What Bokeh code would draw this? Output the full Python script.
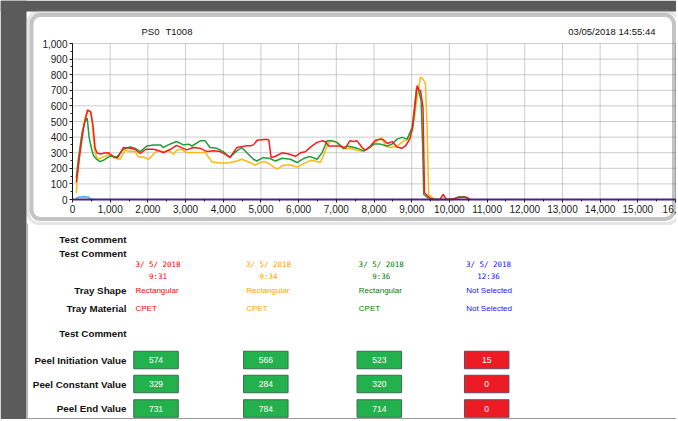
from bokeh.plotting import figure
from bokeh.models import (Range1d, SingleIntervalTicker, NumeralTickFormatter,
                          BoxAnnotation, LinearAxis)
from bokeh.core.properties import value
from bokeh.embed import file_html
from bokeh.resources import INLINE

# ---------------- data ----------------
chart_title_parts = ["PS0", "T1008"]
chart_date = "03/05/2018 14:55:44"

red_x = [100, 200, 300, 400, 480, 540, 600, 650, 750, 850, 950, 1000, 1100, 1200, 1350, 1500,
         1650, 1800, 1950, 2150, 2300, 2420, 2600, 2760, 2940, 3030, 3210, 3390, 3570, 3740,
         3920, 4090, 4180, 4360, 4490, 4620, 4722, 4800, 4900, 4950, 5165, 5210, 5270, 5385,
         5562, 5739, 5916, 6048, 6180, 6313, 6490, 6620, 6710, 6800, 6932, 7110, 7242, 7357,
         7463, 7551, 7684, 7772, 7905, 8038, 8170, 8260, 8350, 8480, 8613, 8746, 8835, 8950,
         9030, 9083, 9145, 9190, 9233, 9300, 9340, 9470, 9560, 9750, 9835, 9920, 10100, 10300,
         10450, 10550]
red_y = [110, 300, 470, 574, 562, 480, 330, 298, 292, 298, 300, 290, 270, 268, 333, 330,
         322, 295, 322, 322, 312, 300, 322, 347, 328, 318, 333, 328, 307, 312,
         307, 285, 269, 333, 339, 344, 344, 350, 380, 382, 386, 380, 268, 277,
         299, 292, 277, 299, 306, 336, 366, 376, 370, 343, 343, 343, 329, 376,
         372, 376, 333, 316, 343, 380, 387, 382, 359, 371, 336, 329, 343, 387,
         462, 591, 731, 703, 699, 591, 43, 12, 0, 0, 32, 0, 5, 15,
         15, 0]

orange_x = [100, 150, 250, 350, 433, 495, 540, 583, 630, 680, 822, 1000, 1175, 1265, 1400, 1530,
            1660, 1750, 1880, 2020, 2150, 2240, 2410, 2540, 2680, 2760, 2890, 3030, 3300, 3520,
            3700, 3830, 4000, 4180, 4360, 4490, 4710, 4840, 4980, 5110, 5240, 5340, 5430, 5600,
            5783, 5960, 6136, 6313, 6445, 6575, 6710, 6800, 6932, 7065, 7197, 7374, 7551, 7728,
            7905, 8082, 8215, 8300, 8435, 8613, 8790, 8923, 9055, 9145, 9233, 9295, 9365, 9410,
            9450, 9540, 9620, 9700]
orange_y = [40, 200, 420, 540, 570, 560, 450, 320, 279, 258, 273, 290, 264, 258, 316, 307,
            307, 273, 273, 258, 290, 312, 307, 316, 290, 316, 322, 301, 301, 301,
            241, 237, 232, 237, 247, 258, 237, 220, 237, 243, 226, 208, 194, 221,
            221, 208, 230, 251, 247, 237, 312, 366, 376, 355, 323, 329, 316, 308,
            336, 376, 398, 343, 333, 343, 376, 387, 505, 655, 784, 774, 742, 462,
            32, 15, 0, 0]

green_x = [100, 150, 250, 330, 389, 440, 500, 560, 640, 725, 850, 1000, 1175, 1350, 1530, 1660,
           1800, 1970, 2150, 2330, 2410, 2540, 2760, 2940, 3080, 3170, 3390, 3520, 3650, 3830,
           4000, 4130, 4180, 4360, 4490, 4620, 4800, 4890, 5060, 5220, 5385, 5562, 5783, 5960,
           6136, 6313, 6490, 6620, 6755, 6887, 7020, 7180, 7286, 7420, 7550, 7728, 7860, 7993,
           8170, 8350, 8480, 8613, 8746, 8879, 9012, 9074, 9127, 9171, 9250, 9290, 9320, 9410,
           9560, 10100, 10240, 10400, 10550]
green_y = [139, 250, 420, 500, 522, 400, 330, 280, 258, 243, 255, 279, 273, 322, 337, 328,
           307, 343, 350, 350, 333, 350, 372, 350, 355, 343, 376, 376, 333, 328,
           307, 279, 273, 312, 333, 301, 258, 247, 268, 264, 247, 264, 258, 237,
           264, 275, 258, 299, 376, 376, 366, 329, 343, 336, 329, 312, 329, 355,
           355, 343, 355, 387, 398, 387, 462, 591, 714, 710, 634, 350, 32, 15,
           0, 0, 17, 17, 0]

blue_x = [100, 150, 300, 430, 480, 600]
blue_y = [5, 15, 17, 15, 0, 0]

series_colors = ["#ff1a1a", "#fdb913", "#1e9e3a", "#33b5e5"]
text_colors = ["#ff0000", "#ffa500", "#008000", "#1414ff"]

x_ticks = list(range(0, 16001, 1000))
y_ticks = list(range(0, 1001, 100))

test_dates = ["3/ 5/ 2018", "3/ 5/ 2018", "3/ 5/ 2018", "3/ 5/ 2018"]
test_times = ["9:31", "9:34", "9:36", "12:36"]
tray_shapes = ["Rectangular", "Rectangular", "Rectangular", "Not Selected"]
tray_materials = ["CPET", "CPET", "CPET", "Not Selected"]
peel_initiation = [574, 566, 523, 15]
peel_constant = [329, 284, 320, 0]
peel_end = [731, 784, 714, 0]
test_passed = [True, True, True, False]

row_labels = ["Test Comment", "Test Comment", "Tray Shape", "Tray Material", "Test Comment",
              "Peel Initiation Value", "Peel Constant Value", "Peel End Value"]

FONT = "Liberation Sans"
GRAY = "#5b5b5b"

# ---------------- page canvas (pixel coordinates) ----------------
W, H = 676, 419
FL, FR, FT, FB = 72, 675, 43, 199      # chart plot area edges in page pixels
XMAX, YMAX = x_ticks[-1], y_ticks[-1]

p = figure(width=W, height=H, x_range=Range1d(0, W), y_range=Range1d(H, 0),
           x_axis_type=None, y_axis_type=None, output_backend="svg", toolbar_location=None,
           min_border=0, outline_line_color=None,
           background_fill_color="white", border_fill_color="white")

# chart ranges placed so that [0, XMAX] x [0, YMAX] spans the plot area
kx = XMAX / (FR - FL)
ky = YMAX / (FB - FT)
p.extra_x_ranges = {"cx": Range1d(-FL * kx, (W - FL) * kx)}
p.extra_y_ranges = {"cy": Range1d((FB - H) * ky, FB * ky)}

# window background / panel frame
p.add_layout(BoxAnnotation(left=0, right=W, top=0, bottom=11, fill_color=GRAY, fill_alpha=1,
                           line_color=None, level="underlay"))
p.add_layout(BoxAnnotation(left=0, right=26, top=0, bottom=H, fill_color=GRAY, fill_alpha=1,
                           line_color=None, level="underlay"))
p.add_layout(BoxAnnotation(left=26, right=27.5, top=223, bottom=H, fill_color="#b5b5b5", fill_alpha=1,
                           line_color=None, level="underlay"))
p.add_layout(BoxAnnotation(left=27, right=W, top=417.5, bottom=H, fill_color="#9a9a9a", fill_alpha=1,
                           line_color=None, level="underlay"))

# grid lines (dotted) at the major ticks
p.segment(x0=x_ticks[1:], y0=[0] * (len(x_ticks) - 1), x1=x_ticks[1:], y1=[YMAX] * (len(x_ticks) - 1),
          x_range_name="cx", y_range_name="cy", line_color="#9a9a9a", line_dash="1 1", line_width=1)
p.segment(x0=[0] * (len(y_ticks) - 1), y0=y_ticks[1:], x1=[XMAX] * (len(y_ticks) - 1), y1=y_ticks[1:],
          x_range_name="cx", y_range_name="cy", line_color="#9a9a9a", line_dash="1 1", line_width=1)

# axes
xax = LinearAxis(x_range_name="cx", y_range_name="cy", fixed_location=0, bounds=(0, XMAX),
                 ticker=SingleIntervalTicker(interval=1000, num_minor_ticks=2),
                 formatter=NumeralTickFormatter(format="0,0"))
yax = LinearAxis(x_range_name="cx", y_range_name="cy", fixed_location=0, bounds=(0, YMAX),
                 ticker=SingleIntervalTicker(interval=100, num_minor_ticks=2),
                 formatter=NumeralTickFormatter(format="0,0"))
for ax in (xax, yax):
    ax.major_label_text_font = FONT
    ax.major_label_text_font_size = "10px"
    ax.major_label_text_color = "#1a1a1a"
    ax.major_tick_in = 0
    ax.major_tick_out = 3
    ax.minor_tick_in = 0
    ax.minor_tick_out = 2
    ax.major_tick_line_color = "#222222"
    ax.minor_tick_line_color = "#222222"
    ax.major_label_standoff = 2
yax.axis_line_color = "#111111"
xax.axis_line_color = "#4b2088"
xax.axis_line_width = 2
# the last tick label is cut by the panel edge in the original
xax.major_label_overrides = {XMAX: "16,"}
p.add_layout(xax, "below")
p.add_layout(yax, "left")

# series
p.line(blue_x, blue_y, line_color=series_colors[3], line_width=1.5, x_range_name="cx", y_range_name="cy")
p.line(orange_x, orange_y, line_color=series_colors[1], line_width=1.5, x_range_name="cx", y_range_name="cy")
p.line(green_x, green_y, line_color=series_colors[2], line_width=1.5, x_range_name="cx", y_range_name="cy")
p.line(red_x, red_y, line_color=series_colors[0], line_width=1.5, x_range_name="cx", y_range_name="cy")

# panel border (drawn above everything)
p.add_layout(BoxAnnotation(left=27.5, right=678, top=11.5, bottom=223, border_radius=11,
                           fill_alpha=0, line_color="#a8a8a8", line_width=3))
p.add_layout(BoxAnnotation(left=31, right=673.5, top=14.5, bottom=218.5, border_radius=9,
                           fill_alpha=0, line_color="#3a3a3a", line_width=4))

# header texts
p.text(x=[141, 165], y=[31, 31], text=chart_title_parts, text_align="left", text_baseline="middle",
       text_font=value(FONT), text_font_size="9.5px", text_color="#111111")
p.text(x=[655], y=[31], text=[chart_date], text_align="right", text_baseline="middle",
       text_font=value(FONT), text_font_size="9.5px", text_color="#111111")

# ---------------- table ----------------
label_y = [239, 252.5, 290, 308, 332.5, 359.5, 383.5, 408]
p.text(x=[126] * len(row_labels), y=label_y, text=row_labels, text_align="right",
       text_baseline="middle", text_font=value(FONT), text_font_style="bold",
       text_font_size="9.8px", text_color="#111111")

col_left = [135, 245.7, 358.3, 465.7]
col_center = [157.5, 268, 380.7, 488]
box_center = [155.5, 265.3, 378.8, 486.2]

p.text(x=col_center, y=[263.7] * 4, text=test_dates, text_align="center", text_baseline="middle",
       text_font=value("DejaVu Sans Mono"), text_font_size="7.5px", text_color=text_colors)
p.text(x=col_center, y=[275.7] * 4, text=test_times, text_align="center", text_baseline="middle",
       text_font=value("DejaVu Sans Mono"), text_font_size="7.5px", text_color=text_colors)
p.text(x=col_left, y=[290] * 4, text=tray_shapes, text_align="left", text_baseline="middle",
       text_font=value(FONT), text_font_size="8px", text_color=text_colors)
p.text(x=col_left, y=[308] * 4, text=tray_materials, text_align="left", text_baseline="middle",
       text_font=value(FONT), text_font_size="8px", text_color=text_colors)

box_fill = ["#22b14c" if ok else "#ed1c24" for ok in test_passed]
box_line = ["#3d6b4f" if ok else "#5c4a63" for ok in test_passed]
for vals, yy in ((peel_initiation, 359.5), (peel_constant, 383.5), (peel_end, 408)):
    p.rect(x=box_center, y=[yy] * 4, width=44.5, height=17.5, fill_color=box_fill,
           line_color=box_line, line_width=1)
    p.text(x=box_center, y=[yy] * 4, text=[str(v) for v in vals], text_align="center",
           text_baseline="middle", text_font=value(FONT), text_font_size="8.5px",
           text_color="white")

open("out.html", "w").write(file_html(p, INLINE))
